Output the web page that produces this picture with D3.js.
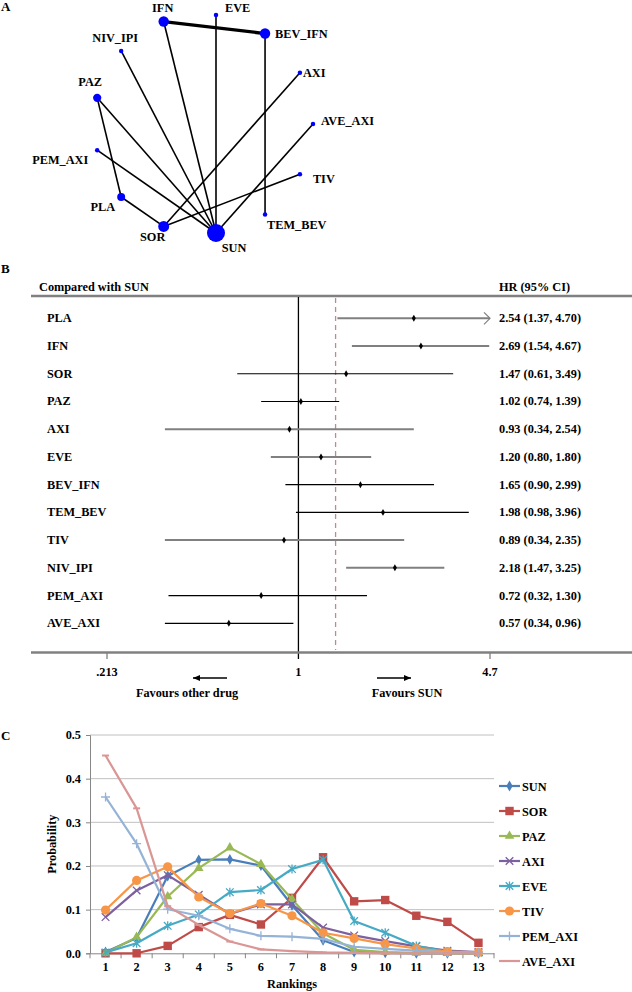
<!DOCTYPE html>
<html><head><meta charset="utf-8">
<script src="https://cdn.jsdelivr.net/npm/d3@7"></script>
<style>
body{margin:0;background:#fff}
text{font-family:"Liberation Serif","Times New Roman",serif;font-weight:bold;fill:#000}
</style>
</head><body><svg id="c" width="632" height="992" xmlns="http://www.w3.org/2000/svg"></svg>
<script>
// ---------- Panel A: network ----------
const nodes    = ["EVE","BEV_IFN","AXI","AVE_AXI","TIV","TEM_BEV","SUN","SOR","PLA","PEM_AXI","PAZ","NIV_IPI","IFN"];
const nodeX    = [0, 0.45, 0.77, 0.89, 0.77, 0.45, 0, -0.48, -0.87, -1.09, -1.09, -0.87, -0.48];
const nodeY    = [-1, -0.83, -0.47, 0, 0.46, 0.83, 1, 0.94, 0.67, 0.24, -0.24, -0.67, -0.94];
const nodeSize = [5, 27, 5, 5, 5, 5, 81, 30, 16, 5, 17, 5, 27];
const edgeFrom = ["IFN","IFN","EVE","BEV_IFN","NIV_IPI","PAZ","PAZ","PEM_AXI","AVE_AXI","AXI","TIV","PLA"];
const edgeTo   = ["BEV_IFN","SUN","SUN","TEM_BEV","SUN","SUN","PLA","SUN","SUN","SOR","SOR","SOR"];
const edgeN    = [2,1,1,1,1,1,1,1,1,1,1,1];

// ---------- Panel B: forest ----------
const comparators = ["PLA","IFN","SOR","PAZ","AXI","EVE","BEV_IFN","TEM_BEV","TIV","NIV_IPI","PEM_AXI","AVE_AXI"];
const hrEst   = [2.54, 2.69, 1.47, 1.02, 0.93, 1.20, 1.65, 1.98, 0.89, 2.18, 0.74, 0.57];
const hrLower = [1.37, 1.54, 0.61, 0.74, 0.34, 0.80, 0.90, 0.98, 0.34, 1.47, 0.35, 0.34];
const hrUpper = [4.70, 4.67, 3.49, 1.39, 2.54, 1.80, 2.99, 3.96, 2.35, 3.25, 1.74, 0.96];
const hrLabels = ["2.54 (1.37, 4.70)","2.69 (1.54, 4.67)","1.47 (0.61, 3.49)","1.02 (0.74, 1.39)",
  "0.93 (0.34, 2.54)","1.20 (0.80, 1.80)","1.65 (0.90, 2.99)","1.98 (0.98, 3.96)",
  "0.89 (0.34, 2.35)","2.18 (1.47, 3.25)","0.72 (0.32, 1.30)","0.57 (0.34, 0.96)"];
const overallHR = 1.35;
const forestTicks = [0.213, 1, 4.7];
const forestTickLabels = [".213", "1", "4.7"];

// ---------- Panel C: rankogram ----------
const ranks = [1,2,3,4,5,6,7,8,9,10,11,12,13];
const yTicks = [0,0.1,0.2,0.3,0.4,0.5];
const seriesNames = ["SUN","SOR","PAZ","AXI","EVE","TIV","PEM_AXI","AVE_AXI"];
const SUN     = [0.003,0.035,0.177,0.214,0.215,0.201,0.110,0.030,0.003,0.001,0.000,0.000,0.000];
const SOR     = [0.000,0.000,0.017,0.060,0.088,0.066,0.127,0.220,0.119,0.122,0.086,0.072,0.024];
const PAZ     = [0.000,0.037,0.130,0.195,0.242,0.204,0.124,0.046,0.008,0.003,0.001,0.000,0.000];
const AXI     = [0.083,0.144,0.179,0.134,0.090,0.112,0.112,0.059,0.041,0.028,0.016,0.006,0.003];
const EVE     = [0.002,0.023,0.063,0.089,0.140,0.145,0.193,0.214,0.074,0.047,0.017,0.004,0.001];
const TIV     = [0.099,0.167,0.198,0.129,0.091,0.114,0.086,0.047,0.034,0.021,0.011,0.004,0.002];
const PEM_AXI = [0.358,0.251,0.101,0.086,0.056,0.040,0.038,0.033,0.015,0.010,0.006,0.002,0.001];
const AVE_AXI = [0.453,0.332,0.108,0.065,0.027,0.009,0.005,0.002,0.001,0.000,0.000,0.000,0.000];
const seriesValues = [SUN,SOR,PAZ,AXI,EVE,TIV,PEM_AXI,AVE_AXI];

// ---------- styles ----------
const FS = 12.3;
const labelPos = { // dx, dy, anchor
  EVE:[9,-3,"start"], BEV_IFN:[10,4,"start"], AXI:[3,4,"start"], AVE_AXI:[8,1,"start"],
  TIV:[13,9,"start"], TEM_BEV:[2,15,"start"], SUN:[18,19,"middle"], SOR:[-11,15,"middle"],
  PLA:[-6,14,"end"], PEM_AXI:[-9,14,"end"], PAZ:[-7,-12,"middle"], NIV_IPI:[-6,-9,"middle"], IFN:[-1,-10,"middle"]
};
const grayLine = [true,true,false,false,true,true,false,false,true,true,false,false];
const seriesColors = ["#4a7ebb","#be4b48","#98b954","#7d60a0","#46aac5","#f79646","#95b3d7","#d99694"];
const seriesMarkers = ["diamond","square","triangle","x","asterisk","circle","plus","dash"];

const svg = d3.select("#c");
svg.append("rect").attr("width",632).attr("height",992).attr("fill","#fff");

function panelLetter(t,x,y){ svg.append("text").attr("x",x).attr("y",y).style("font-size","13px").text(t); }
panelLetter("A",1,11); panelLetter("B",1,273); panelLetter("C",1,740);

// ===== Panel A =====
(function(){
  const sx = d3.scaleLinear().domain([-1,1]).range([107,325]);
  const sy = d3.scaleLinear().domain([-1,1]).range([15,233]);
  const sr = d3.scaleSqrt().domain([0,81]).range([0,9]);
  const sw = d3.scaleLinear().domain([1,2]).range([1.6,3.3]);
  const idx = n => nodes.indexOf(n);
  const g = svg.append("g");
  g.selectAll("line.e").data(edgeFrom).join("line")
    .attr("x1",(d)=>sx(nodeX[idx(d)])).attr("y1",d=>sy(nodeY[idx(d)]))
    .attr("x2",(d,i)=>sx(nodeX[idx(edgeTo[i])])).attr("y2",(d,i)=>sy(nodeY[idx(edgeTo[i])]))
    .attr("stroke","#000").attr("stroke-width",(d,i)=>sw(edgeN[i]));
  g.selectAll("circle").data(nodes).join("circle")
    .attr("cx",(d,i)=>sx(nodeX[i])).attr("cy",(d,i)=>sy(nodeY[i]))
    .attr("r",(d,i)=>sr(nodeSize[i])).attr("fill","#0000ff");
  g.selectAll("text").data(nodes).join("text")
    .attr("x",(d,i)=>sx(nodeX[i])+labelPos[d][0]).attr("y",(d,i)=>sy(nodeY[i])+labelPos[d][1])
    .attr("text-anchor",d=>labelPos[d][2]).style("font-size",FS+"px").text(d=>d);
})();

// ===== Panel B =====
(function(){
  const x = d3.scaleLog().domain([0.213,4.7]).range([107,490]);
  const y = d3.scalePoint().domain(comparators).range([318.3,623.3]);
  const g = svg.append("g");
  g.append("text").attr("x",39).attr("y",291).style("font-size",FS+"px").text("Compared with SUN");
  g.append("text").attr("x",499).attr("y",291).style("font-size",FS+"px").text("HR (95% CI)");
  g.append("line").attr("x1",31).attr("x2",632).attr("y1",296).attr("y2",296).attr("stroke","#808080").attr("stroke-width",2.5);
  // null line & overall line
  g.append("line").attr("x1",x(1)).attr("x2",x(1)).attr("y1",297).attr("y2",659).attr("stroke","#000").attr("stroke-width",1.3);
  g.append("line").attr("x1",x(overallHR)).attr("x2",x(overallHR)).attr("y1",298).attr("y2",650)
    .attr("stroke","#c08a8a").attr("stroke-width",1.3).attr("stroke-dasharray","5,4");
  // bottom axis
  g.append("line").attr("x1",31).attr("x2",632).attr("y1",652.5).attr("y2",652.5).attr("stroke","#808080").attr("stroke-width",2.5);
  forestTicks.forEach((t,i)=>{
    if(t!==1) g.append("line").attr("x1",x(t)).attr("x2",x(t)).attr("y1",652).attr("y2",659).attr("stroke","#808080").attr("stroke-width",1.3);
    g.append("text").attr("x",x(t)).attr("y",676).attr("text-anchor","middle").style("font-size",FS+"px").text(forestTickLabels[i]);
  });
  // favours arrows
  const ah = (x1,x2,yy)=>{
    g.append("line").attr("x1",x1).attr("x2",x2).attr("y1",yy).attr("y2",yy).attr("stroke","#000").attr("stroke-width",1.4);
    const dir = Math.sign(x2-x1);
    g.append("path").attr("d",`M${x2},${yy}L${x2-dir*7},${yy-3}L${x2-dir*7},${yy+3}Z`).attr("fill","#000");
  };
  ah(227,193,678); ah(377,411,678);
  g.append("text").attr("x",187).attr("y",697).attr("text-anchor","middle").style("font-size",FS+"px").text("Favours other drug");
  g.append("text").attr("x",407).attr("y",697).attr("text-anchor","middle").style("font-size",FS+"px").text("Favours SUN");
  // rows
  const xmax = x.domain()[1], xmin = x.domain()[0];
  comparators.forEach((c,i)=>{
    const yy = y(c);
    const col = grayLine[i] ? "#808080" : "#000";
    const sw = grayLine[i] ? 2 : 1.2;
    g.append("text").attr("x",47).attr("y",yy+4).style("font-size",FS+"px").text(c);
    g.append("line").attr("x1",x(Math.max(hrLower[i],xmin))).attr("x2",x(Math.min(hrUpper[i],xmax)))
      .attr("y1",yy).attr("y2",yy).attr("stroke",col).attr("stroke-width",sw);
    if(hrUpper[i] >= xmax){
      const xe = x(xmax);
      g.append("path").attr("d",`M${xe-6},${yy-6}L${xe},${yy}L${xe-6},${yy+6}`).attr("fill","none").attr("stroke",col).attr("stroke-width",1.2);
    }
    g.append("path").attr("d",d3.symbol(d3.symbolDiamond,14)()).attr("transform",`translate(${x(hrEst[i])},${yy})`).attr("fill","#000");
    g.append("text").attr("x",499).attr("y",yy+4).style("font-size",FS+"px").text(hrLabels[i]);
  });
})();

// ===== Panel C =====
(function(){
  const x = d3.scaleBand().domain(ranks).range([90,494]);
  const y = d3.scaleLinear().domain([0,0.5]).range([953.3,735]);
  const g = svg.append("g");
  // gridlines
  g.selectAll("line.grid").data(yTicks.filter(t=>t>0)).join("line")
    .attr("x1",90).attr("x2",494).attr("y1",d=>y(d)).attr("y2",d=>y(d)).attr("stroke","#c0c0c0").attr("stroke-width",1);
  // y axis
  const ya = d3.axisLeft(y).tickValues(yTicks).tickFormat(d3.format(".1f")).tickSize(4).tickPadding(5);
  const yg = g.append("g").attr("transform","translate(90,0)").call(ya);
  yg.select(".domain").attr("stroke","#868686");
  yg.selectAll(".tick line").attr("stroke","#868686");
  yg.selectAll("text").style("font-size",FS+"px").attr("font-family",null);
  // x axis
  const xa = d3.axisBottom(x).tickSize(0).tickPadding(9);
  const xg = g.append("g").attr("transform",`translate(0,${y(0)})`).call(xa);
  xg.select(".domain").attr("stroke","#868686");
  xg.selectAll("text").style("font-size",FS+"px").attr("font-family",null);
  // boundary ticks
  const bounds = ranks.map(r=>x(r)).concat([x(ranks[ranks.length-1])+x.bandwidth()]);
  g.selectAll("line.bt").data(bounds).join("line")
    .attr("x1",d=>d).attr("x2",d=>d).attr("y1",y(0)).attr("y2",y(0)+5).attr("stroke","#868686");
  g.append("text").attr("transform",`translate(56,${(y(0)+y(0.5))/2}) rotate(-90)`).attr("text-anchor","middle")
    .style("font-size",FS+"px").text("Probability");
  g.append("text").attr("x",292).attr("y",988).attr("text-anchor","middle").style("font-size",FS+"px").text("Rankings");

  function marker(sel, type, color){
    const s = sel;
    if(type==="diamond") s.append("path").attr("d",d3.symbol(d3.symbolDiamond,34)()).attr("fill",color);
    else if(type==="square") s.append("rect").attr("x",-4.2).attr("y",-4.2).attr("width",8.4).attr("height",8.4).attr("fill",color);
    else if(type==="triangle") s.append("path").attr("d",d3.symbol(d3.symbolTriangle,40)()).attr("fill",color);
    else if(type==="circle") s.append("circle").attr("r",4.6).attr("fill",color);
    else if(type==="x") s.append("path").attr("d","M-3.8,-3.8L3.8,3.8M-3.8,3.8L3.8,-3.8").attr("stroke",color).attr("stroke-width",1.3);
    else if(type==="asterisk") s.append("path").attr("d","M-3.8,-3.8L3.8,3.8M-3.8,3.8L3.8,-3.8M0,-4.5L0,4.5").attr("stroke",color).attr("stroke-width",1.3);
    else if(type==="plus") s.append("path").attr("d","M-4.5,0L4.5,0M0,-4.5L0,4.5").attr("stroke",color).attr("stroke-width",1.3);
    else if(type==="dash") s.append("path").attr("d","M-3.5,0L3.5,0").attr("stroke",color).attr("stroke-width",2);
  }
  const cx = r => x(r)+x.bandwidth()/2;
  const line = d3.line().x((d,i)=>cx(ranks[i])).y(d=>y(d));
  seriesNames.forEach((nm,si)=>{
    const vals = seriesValues[si], col = seriesColors[si];
    g.append("path").attr("d",line(vals)).attr("fill","none").attr("stroke",col).attr("stroke-width",2.2).attr("stroke-linejoin","round");
    vals.forEach((v,i)=>{
      const mg = g.append("g").attr("transform",`translate(${cx(ranks[i])},${y(v)})`);
      marker(mg, seriesMarkers[si], col);
    });
  });
  // legend
  const ly = d3.scalePoint().domain(seriesNames).range([786,961]);
  seriesNames.forEach((nm,si)=>{
    const yy = ly(nm), col = seriesColors[si];
    g.append("line").attr("x1",499).attr("x2",520).attr("y1",yy).attr("y2",yy).attr("stroke",col).attr("stroke-width",2.2);
    marker(g.append("g").attr("transform",`translate(509.5,${yy})`), seriesMarkers[si], col);
    g.append("text").attr("x",522).attr("y",yy+4.5).style("font-size",FS+"px").text(nm);
  });
})();
</script>
</body></html>
